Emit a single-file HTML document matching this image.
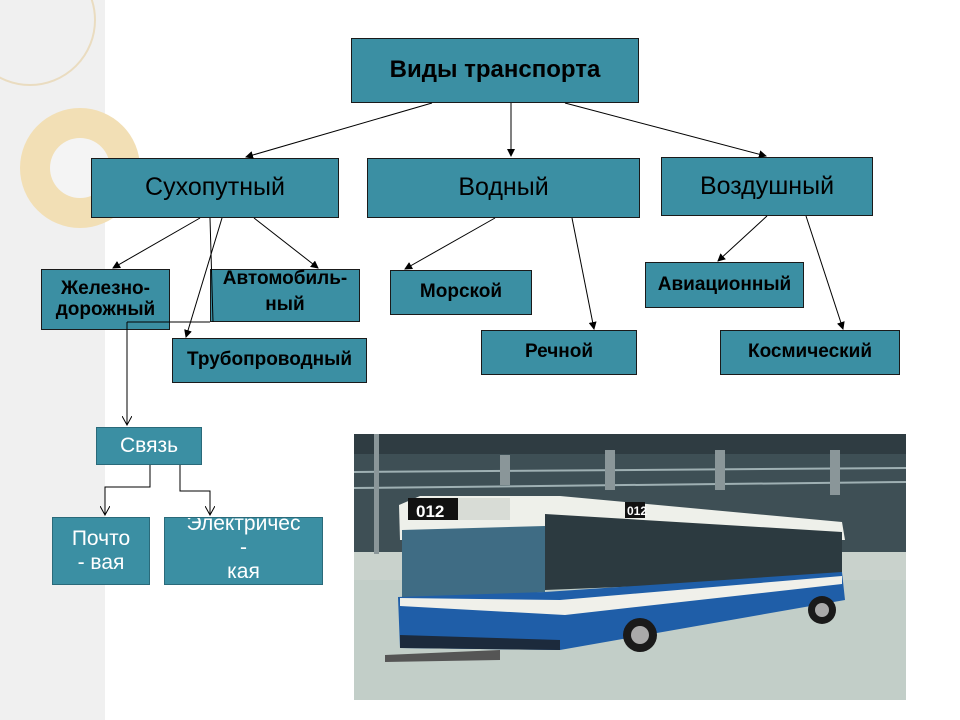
<!DOCTYPE html>
<html><head><meta charset="utf-8"><style>
body{margin:0;width:960px;height:720px;position:relative;background:#fff;font-family:"Liberation Sans",sans-serif;overflow:hidden}
.strip{position:absolute;left:0;top:0;width:105px;height:720px;background:#f0f0f0}
.b{position:absolute;background:#3b8fa3;border:1px solid #1a1a1a;box-sizing:border-box;display:flex;align-items:center;justify-content:center;text-align:center;color:#000;line-height:1.1;overflow:hidden}
.w{color:#fff;font-weight:normal;border-color:#2a6a7a}
svg{position:absolute;left:0;top:0}
</style></head><body>
<div class="strip"></div>
<svg width="960" height="720">
<circle cx="30" cy="20" r="65" fill="none" stroke="#eadcc0" stroke-width="2"/>
<circle cx="80" cy="168" r="60" fill="#f2dfb5"/>
<circle cx="80" cy="168" r="30" fill="#f4f4f4"/>
</svg>
<div class="b" style="left:351px;top:38px;width:288px;height:65px;font-weight:bold;font-size:24px">Виды транспорта</div>
<div class="b" style="left:91px;top:158px;width:248px;height:60px;font-size:25px">Сухопутный</div>
<div class="b" style="left:367px;top:158px;width:273px;height:60px;font-size:25px">Водный</div>
<div class="b" style="left:661px;top:157px;width:212px;height:59px;font-size:25px">Воздушный</div>
<div class="b" style="left:41px;top:269px;width:129px;height:61px;font-size:19px;font-weight:bold;overflow:visible;white-space:nowrap">Железно-<br>дорожный</div>
<div class="b" style="left:210px;top:269px;width:150px;height:53px;font-size:19px;font-weight:bold;align-items:flex-start;overflow:visible;white-space:nowrap;line-height:26px"><div style="margin-top:-4px">Автомобиль-<br>ный</div></div>
<div class="b" style="left:172px;top:338px;width:195px;height:45px;font-size:19px;font-weight:bold;overflow:visible;white-space:nowrap">Трубопроводный</div>
<div class="b" style="left:390px;top:270px;width:142px;height:45px;font-size:19px;font-weight:bold">Морской</div>
<div class="b" style="left:481px;top:330px;width:156px;height:45px;font-size:19px;font-weight:bold">Речной</div>
<div class="b" style="left:645px;top:262px;width:159px;height:46px;font-size:19px;font-weight:bold;overflow:visible;white-space:nowrap">Авиационный</div>
<div class="b" style="left:720px;top:330px;width:180px;height:45px;font-size:19px;font-weight:bold">Космический</div>
<div class="b w" style="left:96px;top:427px;width:106px;height:38px;font-size:21px">Связь</div>
<div class="b w" style="left:52px;top:517px;width:98px;height:68px;font-size:21px;line-height:24px">Почто<br>- вая</div>
<div class="b w" style="left:164px;top:517px;width:159px;height:68px;font-size:21px;align-items:flex-start;line-height:24px"><div style="margin-top:-6px">Электричес<br>-<br>кая</div></div>
<svg width="960" height="720">
<defs><marker id="a" markerWidth="8" markerHeight="8" refX="7" refY="4" orient="auto"><path d="M0,0 L8,4 L0,8 z" fill="#000"/></marker>
<marker id="o" markerWidth="10" markerHeight="10" refX="9" refY="5" orient="auto"><path d="M0,0 L9,5 L0,10" fill="none" stroke="#000"/></marker></defs>
<g stroke="#000" stroke-width="1" fill="none">
<line x1="432" y1="103" x2="246" y2="157" marker-end="url(#a)"/>
<line x1="511" y1="103" x2="511" y2="156" marker-end="url(#a)"/>
<line x1="565" y1="103" x2="766" y2="156" marker-end="url(#a)"/>
<line x1="200" y1="218" x2="113" y2="268" marker-end="url(#a)"/>
<line x1="210" y1="218" x2="213" y2="322"/>
<line x1="222" y1="218" x2="186" y2="337" marker-end="url(#a)"/>
<line x1="254" y1="218" x2="318" y2="268" marker-end="url(#a)"/>
<line x1="495" y1="218" x2="405" y2="269" marker-end="url(#a)"/>
<line x1="572" y1="218" x2="594" y2="329" marker-end="url(#a)"/>
<line x1="767" y1="216" x2="718" y2="261" marker-end="url(#a)"/>
<line x1="806" y1="216" x2="843" y2="329" marker-end="url(#a)"/>
<line x1="127" y1="322" x2="210" y2="322"/>
<line x1="127" y1="322" x2="127" y2="425" marker-end="url(#o)"/>
<polyline points="150,465 150,487 105,487 105,515" marker-end="url(#o)"/>
<polyline points="180,465 180,491 210,491 210,515" marker-end="url(#o)"/>
</g>
<rect x="354" y="434" width="552" height="266" fill="#c9d2cc"/>
<rect x="354" y="434" width="552" height="118" fill="#3e4f55"/>
<rect x="354" y="434" width="552" height="20" fill="#2f3c42"/>
<g stroke="#9fb0b3" stroke-width="2"><line x1="354" y1="472" x2="906" y2="468"/><line x1="354" y1="488" x2="906" y2="482"/></g>
<g fill="#8a9699"><rect x="374" y="434" width="5" height="120"/><rect x="500" y="455" width="10" height="30"/><rect x="605" y="450" width="10" height="40"/><rect x="715" y="450" width="10" height="40"/><rect x="830" y="450" width="10" height="45"/></g>
<rect x="354" y="580" width="552" height="120" fill="#c2cec8"/>
<polygon points="399,505 420,496 560,496 842,522 845,540 400,540" fill="#eef0ea"/>
<polygon points="402,530 545,526 545,592 402,600" fill="#3f6c84"/>
<polygon points="545,514 842,532 842,578 545,590" fill="#2c3a40"/>
<rect x="408" y="498" width="50" height="22" fill="#111"/>
<text x="416" y="517" fill="#fff" font-size="17" font-weight="bold" font-family="Liberation Sans">012</text>
<rect x="458" y="498" width="52" height="22" fill="#d8dcd6"/>
<rect x="625" y="502" width="20" height="16" fill="#111"/>
<text x="627" y="515" fill="#fff" font-size="12" font-weight="bold" font-family="Liberation Sans">012</text>
<polygon points="398,597 545,592 842,572 845,600 560,650 400,648" fill="#1f5ea8"/>
<polygon points="400,598 560,600 842,576 842,584 565,615 400,606" fill="#f0f0ea"/>
<polygon points="400,635 560,640 560,650 400,648" fill="#1c2a3c"/>
<circle cx="640" cy="635" r="17" fill="#1a1a1a"/><circle cx="640" cy="635" r="9" fill="#aaa"/>
<circle cx="822" cy="610" r="14" fill="#1a1a1a"/><circle cx="822" cy="610" r="7" fill="#aaa"/>
<polygon points="385,655 500,650 500,660 385,662" fill="#555"/>
</svg>
</body></html>
